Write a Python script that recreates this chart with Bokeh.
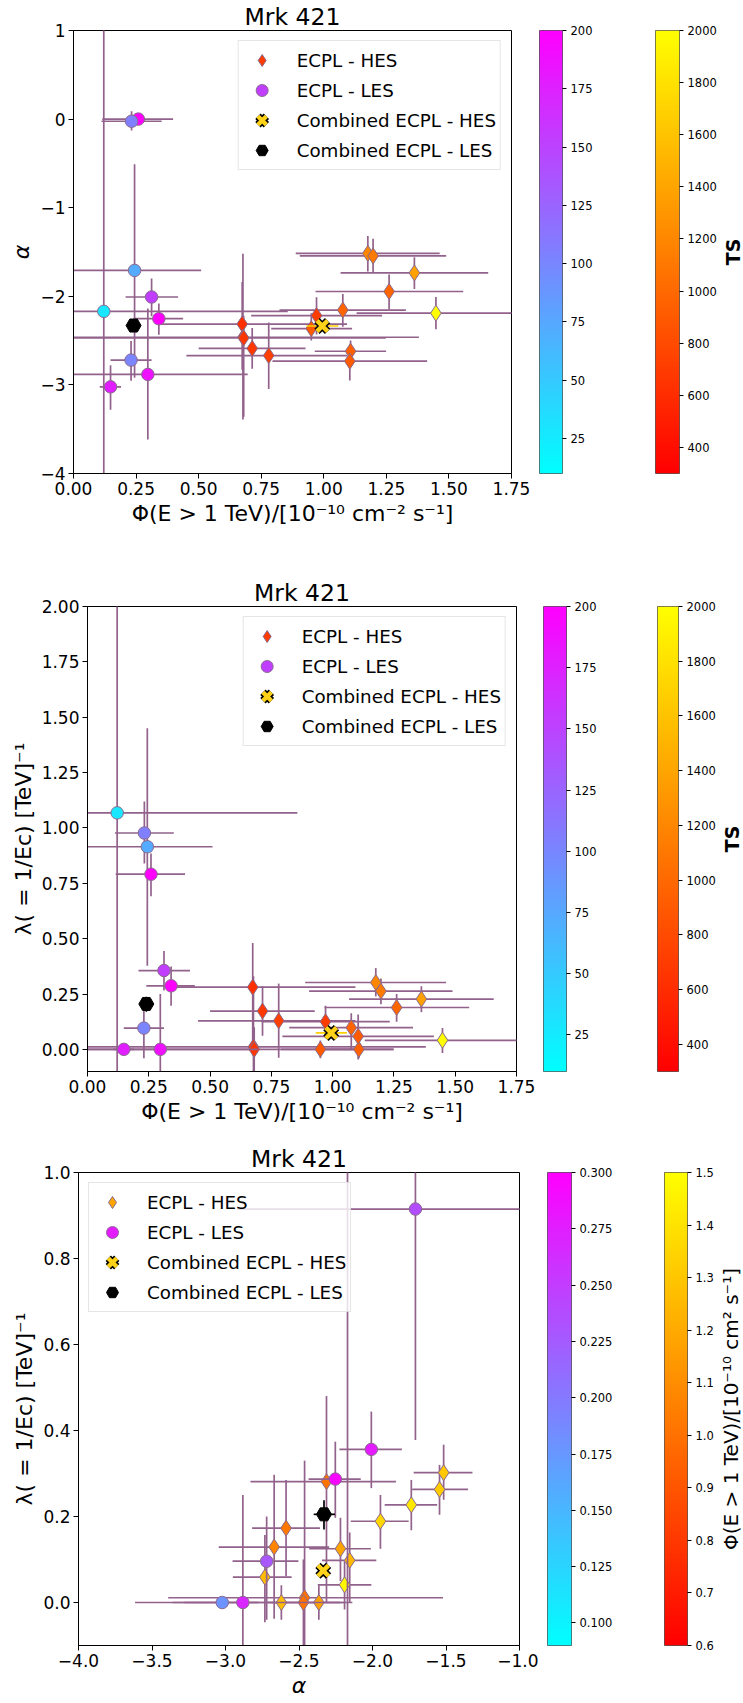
import math
import numpy as np
from bokeh.plotting import figure
from bokeh.models import (ColumnDataSource, LinearColorMapper, FixedTicker, CustomJSTickFormatter,
                          Range1d, Legend, LegendItem, Title)
from bokeh.layouts import column, row
from bokeh.embed import file_html
from bokeh.resources import INLINE
from bokeh.transform import transform

FONT = "DejaVu Sans"

# ---------------- data ----------------
# ECPL - HES
hes_flux    = [0.971, 1.176, 1.197, 1.362, 1.261, 1.076, 1.448, 0.950, 0.674, 0.677, 0.714, 1.107, 0.780, 1.104, 0.680]
hes_flux_lo = [0.710, 0.888, 0.904, 1.067, 0.967, 0.823, 1.131, 0.790, 0.348, -0.05, 0.500, 0.964, 0.451, 0.795, -0.05]
hes_flux_hi = [1.233, 1.463, 1.489, 1.657, 1.557, 1.328, 1.800, 1.113, 1.093, 1.380, 0.927, 1.249, 1.093, 1.413, 1.248]
hes_alpha    = [-2.218, -1.516, -1.544, -1.736, -1.946, -2.155, -2.190, -2.365, -2.313, -2.462, -2.588, -2.620, -2.669, -2.732, -2.470]
hes_alpha_lo = [-2.431, -1.720, -1.730, -1.917, -2.148, -2.344, -2.372, -2.498, -2.830, -3.390, -2.819, -2.710, -3.046, -2.950, -3.360]
hes_alpha_hi = [-2.011, -1.320, -1.350, -1.560, -1.754, -1.974, -2.008, -2.190, -1.840, -1.520, -2.357, -2.500, -2.295, -2.550, -2.220]
hes_lam    = [0.125, 0.302, 0.263, 0.227, 0.189, 0.098, 0.041, 0.000, 0.281, 0.011, 0.173, 0.000, 0.129, 0.059, 0.000]
hes_lam_lo = [0.050, 0.239, 0.204, 0.168, 0.125, 0.000, -0.016, -0.040, 0.000, -0.150, 0.061, -0.040, -0.038, -0.046, -0.100]
hes_lam_hi = [0.197, 0.367, 0.320, 0.285, 0.250, 0.163, 0.096, 0.040, 0.480, 0.330, 0.285, 0.040, 0.297, 0.157, 0.100]
hes_ts = [700, 1200, 1115, 1370, 980, 970, 1990, 900, 620, 640, 670, 950, 730, 910, 660]

# ECPL - LES
les_flux    = [0.312, 0.259, 0.232, 0.244, 0.121, 0.341, 0.230, 0.297, 0.148]
les_flux_lo = [0.208, 0.115, 0.112, -0.05, -0.05, 0.240, 0.148, -0.05, 0.105]
les_flux_hi = [0.418, 0.398, 0.352, 0.510, 0.856, 0.438, 0.312, 0.696, 0.190]
les_alpha    = [-2.008, 0.000, -0.024, -1.708, -2.170, -2.253, -2.720, -2.882, -3.022]
les_alpha_lo = [-2.225, -0.020, -0.129, -2.920, -6.000, -2.435, -2.952, -3.615, -3.280]
les_alpha_hi = [-1.800, 0.020, 0.088, -0.510, 2.000, -2.080, -2.504, -2.137, -2.777]
les_lam    = [0.356, 0.791, 0.977, 0.915, 1.068, 0.287, 0.096, 0.000, 0.000]
les_lam_lo = [0.266, 0.692, 0.839, 0.378, -0.500, 0.197, -0.040, -0.200, 0.000]
les_lam_hi = [0.444, 0.884, 1.119, 1.450, 2.500, 0.374, 0.200, 0.250, 0.000]
les_ts = [153, 210, 105, 73, 29, 210, 101, 187, 177]

# Combined fits
chs_flux, chs_flux_lo, chs_flux_hi = [0.994], [0.931], [1.058]
chs_alpha, chs_alpha_lo, chs_alpha_hi = [-2.335], [-2.370], [-2.300]
chs_lam, chs_lam_lo, chs_lam_hi = [0.074], [0.060], [0.088]
cls_flux, cls_flux_lo, cls_flux_hi = [0.240], [0.228], [0.252]
cls_alpha, cls_alpha_lo, cls_alpha_hi = [-2.330], [-2.400], [-2.255]
cls_lam, cls_lam_lo, cls_lam_hi = [0.205], [0.170], [0.238]

# ticks / labels
flux_ticks = [0.0, 0.25, 0.5, 0.75, 1.0, 1.25, 1.5, 1.75]
alpha_ticks1 = [-4, -3, -2, -1, 0, 1]
lam_ticks2 = [0.0, 0.25, 0.5, 0.75, 1.0, 1.25, 1.5, 1.75, 2.0]
alpha_ticks3 = [-4.0, -3.5, -3.0, -2.5, -2.0, -1.5, -1.0]
lam_ticks3 = [0.0, 0.2, 0.4, 0.6, 0.8, 1.0]
ts_les_ticks = [25, 50, 75, 100, 125, 150, 175, 200]
ts_hes_ticks = [400, 600, 800, 1000, 1200, 1400, 1600, 1800, 2000]
fl_les_ticks = [0.100, 0.125, 0.150, 0.175, 0.200, 0.225, 0.250, 0.275, 0.300]
fl_hes_ticks = [0.6, 0.7, 0.8, 0.9, 1.0, 1.1, 1.2, 1.3, 1.4, 1.5]

XLAB_FLUX = "Φ(E > 1 TeV)/[10⁻¹⁰ cm⁻² s⁻¹]"
YLAB_LAM = "λ( = 1/Ec) [TeV]⁻¹"
CB3_LAB = "Φ(E > 1 TeV)/[10⁻¹⁰ cm² s⁻¹]"

# colormaps (matplotlib "cool" and "autumn")
COOL = ["#%02x%02x%02x" % (int(round(255 * t)), int(round(255 * (1 - t))), 255) for t in np.linspace(0, 1, 256)]
AUTUMN = ["#%02x%02x%02x" % (255, int(round(255 * t)), 0) for t in np.linspace(0, 1, 256)]

ECOL = "#92628c"
MEC = "#8a6a8e"


def fmt(d):
    return CustomJSTickFormatter(code="return tick.toFixed(%d).replace('-', '\u2212');" % d)


def style_axes(p):
    for ax in (p.xaxis[0], p.yaxis[0]):
        ax.major_label_text_font = FONT
        ax.major_label_text_font_size = "17px"
        ax.major_label_text_color = "black"
        ax.axis_label_text_font = FONT
        ax.axis_label_text_font_size = "22px"
        ax.axis_label_text_font_style = "normal"
        ax.axis_label_text_color = "black"
        ax.major_tick_out = 5
        ax.major_tick_in = 0
        ax.minor_tick_out = 0
        ax.minor_tick_in = 0
        ax.major_label_standoff = 3
        ax.axis_label_standoff = 3
        ax.axis_line_color = "black"
        ax.major_tick_line_color = "black"


def main_fig(width, height, mbl, mbr, mbt, mbb, xr, yr, xticks, xd, yticks, yd, xlab, ylab):
    p = figure(width=width, height=height, x_range=Range1d(*xr), y_range=Range1d(*yr),
               output_backend="svg", toolbar_location=None, title="Mrk 421",
               min_border_left=mbl, min_border_right=mbr, min_border_top=mbt, min_border_bottom=mbb)
    p.title.text_font = FONT
    p.title.text_font_size = "23.5px"
    p.title.text_font_style = "normal"
    p.title.text_color = "black"
    p.title.align = "center"
    p.title.standoff = 0
    p.grid.visible = False
    p.outline_line_color = "black"
    p.outline_line_alpha = 1.0
    p.xaxis.ticker = FixedTicker(ticks=xticks)
    p.xaxis.formatter = fmt(xd)
    p.yaxis.ticker = FixedTicker(ticks=yticks)
    p.yaxis.formatter = fmt(yd)
    p.xaxis.axis_label = xlab
    p.yaxis.axis_label = ylab
    style_axes(p)
    return p


def add_points(p, xs, ys, hes_cmap, les_cmap, legend_loc):
    hes = dict(flux=hes_flux, flux_lo=hes_flux_lo, flux_hi=hes_flux_hi,
               alpha=hes_alpha, alpha_lo=hes_alpha_lo, alpha_hi=hes_alpha_hi,
               lam=hes_lam, lam_lo=hes_lam_lo, lam_hi=hes_lam_hi, ts=hes_ts)
    les = dict(flux=les_flux, flux_lo=les_flux_lo, flux_hi=les_flux_hi,
               alpha=les_alpha, alpha_lo=les_alpha_lo, alpha_hi=les_alpha_hi,
               lam=les_lam, lam_lo=les_lam_lo, lam_hi=les_lam_hi, ts=les_ts)
    chs = dict(flux=chs_flux, flux_lo=chs_flux_lo, flux_hi=chs_flux_hi,
               alpha=chs_alpha, alpha_lo=chs_alpha_lo, alpha_hi=chs_alpha_hi,
               lam=chs_lam, lam_lo=chs_lam_lo, lam_hi=chs_lam_hi)
    cls = dict(flux=cls_flux, flux_lo=cls_flux_lo, flux_hi=cls_flux_hi,
               alpha=cls_alpha, alpha_lo=cls_alpha_lo, alpha_hi=cls_alpha_hi,
               lam=cls_lam, lam_lo=cls_lam_lo, lam_hi=cls_lam_hi)

    def src(d):
        out = dict(x=d[xs], xlo=d[xs + "_lo"], xhi=d[xs + "_hi"],
                   y=d[ys], ylo=d[ys + "_lo"], yhi=d[ys + "_hi"], flux=d["flux"])
        if "ts" in d:
            out["ts"] = d["ts"]
        return ColumnDataSource(out)

    s_h, s_l, s_ch, s_cl = src(hes), src(les), src(chs), src(cls)
    hes_field, hes_map = hes_cmap
    les_field, les_map = les_cmap

    p.segment(x0="xlo", y0="y", x1="xhi", y1="y", source=s_h, line_color=ECOL, line_width=1.7)
    p.segment(x0="x", y0="ylo", x1="x", y1="yhi", source=s_h, line_color=ECOL, line_width=1.7)
    r_h = p.scatter("x", "y", source=s_h, marker="diamond", size=16,
                    fill_color=transform(hes_field, hes_map), line_color=MEC, line_width=1)
    p.segment(x0="xlo", y0="y", x1="xhi", y1="y", source=s_l, line_color=ECOL, line_width=1.7)
    p.segment(x0="x", y0="ylo", x1="x", y1="yhi", source=s_l, line_color=ECOL, line_width=1.7)
    r_l = p.scatter("x", "y", source=s_l, marker="circle", size=12.5,
                    fill_color=transform(les_field, les_map), line_color=MEC, line_width=1)

    p.segment(x0="xlo", y0="y", x1="xhi", y1="y", source=s_ch, line_color="#ffd000", line_width=1.7)
    p.segment(x0="x", y0="ylo", x1="x", y1="yhi", source=s_ch, line_color="#ffd000", line_width=1.7)
    r_cx1 = p.scatter("x", "y", source=s_ch, marker="x", size=15, line_color="black", line_width=7.5)
    r_cx2 = p.scatter("x", "y", source=s_ch, marker="x", size=15, line_color="#ffd21a", line_width=4.5)

    p.segment(x0="xlo", y0="y", x1="xhi", y1="y", source=s_cl, line_color="black", line_width=1.7)
    p.segment(x0="x", y0="ylo", x1="x", y1="yhi", source=s_cl, line_color="black", line_width=1.7)
    r_cl = p.scatter("x", "y", source=s_cl, marker="hex", size=15, fill_color="black", line_color="black")

    legend = Legend(items=[
        LegendItem(label="ECPL - HES", renderers=[r_h], index=0),
        LegendItem(label="ECPL - LES", renderers=[r_l], index=0),
        LegendItem(label="Combined ECPL - HES", renderers=[r_cx1, r_cx2], index=0),
        LegendItem(label="Combined ECPL - LES", renderers=[r_cl], index=0),
    ], location=legend_loc)
    legend.label_text_font = FONT
    legend.label_text_font_size = "18.3px"
    legend.label_text_color = "black"
    legend.glyph_width = 38
    legend.glyph_height = 30
    legend.label_height = 30
    legend.spacing = -3
    legend.padding = 4
    legend.label_standoff = 16
    legend.margin = 10
    legend.border_line_color = "#cccccc"
    legend.border_line_width = 1
    legend.background_fill_color = "white"
    legend.background_fill_alpha = 0.8
    p.add_layout(legend)


def cbar_fig(width, height, mbl, mbr, mbt, mbb, palette, low, high, ticks, digits):
    c = figure(width=width, height=height, x_range=Range1d(0, 1), y_range=Range1d(low, high),
               x_axis_location=None, y_axis_location="right", output_backend="svg",
               toolbar_location=None, min_border_left=mbl, min_border_right=mbr,
               min_border_top=mbt, min_border_bottom=mbb)
    mapper = LinearColorMapper(palette=palette, low=low, high=high)
    c.image(image=[np.linspace(low, high, 256).reshape(-1, 1)], x=0, y=low, dw=1, dh=high - low,
            color_mapper=mapper)
    c.grid.visible = False
    c.outline_line_color = "#555555"
    ax = c.yaxis[0]
    ax.ticker = FixedTicker(ticks=ticks)
    ax.formatter = fmt(digits)
    ax.major_label_text_font = FONT
    ax.major_label_text_font_size = "11.5px"
    ax.major_label_text_color = "black"
    ax.major_tick_out = 4
    ax.major_tick_in = 0
    ax.minor_tick_out = 0
    ax.minor_tick_in = 0
    ax.major_label_standoff = 4
    ax.axis_line_color = None
    ax.major_tick_line_color = "black"
    return c


def label_fig(width, height, mbt, mbb, text, size, style):
    lf = figure(width=width, height=height, x_axis_location=None, y_axis_location=None,
                output_backend="svg", toolbar_location=None, min_border_left=0, min_border_right=0,
                min_border_top=mbt, min_border_bottom=mbb)
    lf.outline_line_color = None
    lf.grid.visible = False
    t = Title(text=text, align="center", text_font=FONT, text_font_size=size,
              text_font_style=style, text_color="black", standoff=0)
    lf.add_layout(t, "left")
    return lf


# colour mappers for the points
m_ts_hes = LinearColorMapper(palette=AUTUMN, low=300, high=2000)
m_ts_les = LinearColorMapper(palette=COOL, low=10, high=200)
m_fl_hes = LinearColorMapper(palette=AUTUMN, low=0.0, high=1.5)
m_fl_les = LinearColorMapper(palette=COOL, low=0.0, high=0.35)

# ---------------- panel 1 ----------------
H1 = 576
f1 = main_fig(530, H1, 73, 19, 29, 70, (0, 1.75), (-4, 1), flux_ticks, 2, alpha_ticks1, 0, XLAB_FLUX, "α")
f1.yaxis.axis_label_text_font_style = "italic"
add_points(f1, "flux", "alpha", ("ts", m_ts_hes), ("ts", m_ts_les), "top_right")
c1a = cbar_fig(110, H1, 9, 78, 28, 103, COOL, 10, 200, ts_les_ticks, 0)
c1b = cbar_fig(79, H1, 15, 40, 28, 103, AUTUMN, 300, 2000, ts_hes_ticks, 0)
l1 = label_fig(24, H1, 28, 103, "TS", "19px", "bold")

# ---------------- panel 2 ----------------
H2 = 566
f2 = main_fig(535, H2, 87, 19, 29, 71, (0, 1.75), (-0.1, 2.0), flux_ticks, 2, lam_ticks2, 2, XLAB_FLUX, YLAB_LAM)
add_points(f2, "flux", "lam", ("ts", m_ts_hes), ("ts", m_ts_les), "top_right")
c2a = cbar_fig(110, H2, 8, 79, 29, 71, COOL, 10, 200, ts_les_ticks, 0)
c2b = cbar_fig(73, H2, 12, 38, 29, 71, AUTUMN, 300, 2000, ts_hes_ticks, 0)
l2 = label_fig(25, H2, 29, 71, "TS", "19px", "bold")

# ---------------- panel 3 ----------------
H3 = 560
f3 = main_fig(538, H3, 78, 19, 29, 57, (-4, -1), (-0.1, 1.0), alpha_ticks3, 1, lam_ticks3, 1, "α", YLAB_LAM)
f3.xaxis.axis_label_text_font_style = "italic"
add_points(f3, "alpha", "lam", ("flux", m_fl_hes), ("flux", m_fl_les), "top_left")
c3a = cbar_fig(110, H3, 9, 77, 29, 57, COOL, 0.09, 0.30, fl_les_ticks, 3)
c3b = cbar_fig(68, H3, 16, 28, 29, 57, AUTUMN, 0.6, 1.5, fl_hes_ticks, 1)
l3 = label_fig(27, H3, 29, 57, CB3_LAB, "20px", "normal")

layout = column(row(f1, c1a, c1b, l1), row(f2, c2a, c2b, l2), row(f3, c3a, c3b, l3))

with open("out.html", "w", encoding="utf-8") as fh:
    fh.write(file_html(layout, INLINE))
